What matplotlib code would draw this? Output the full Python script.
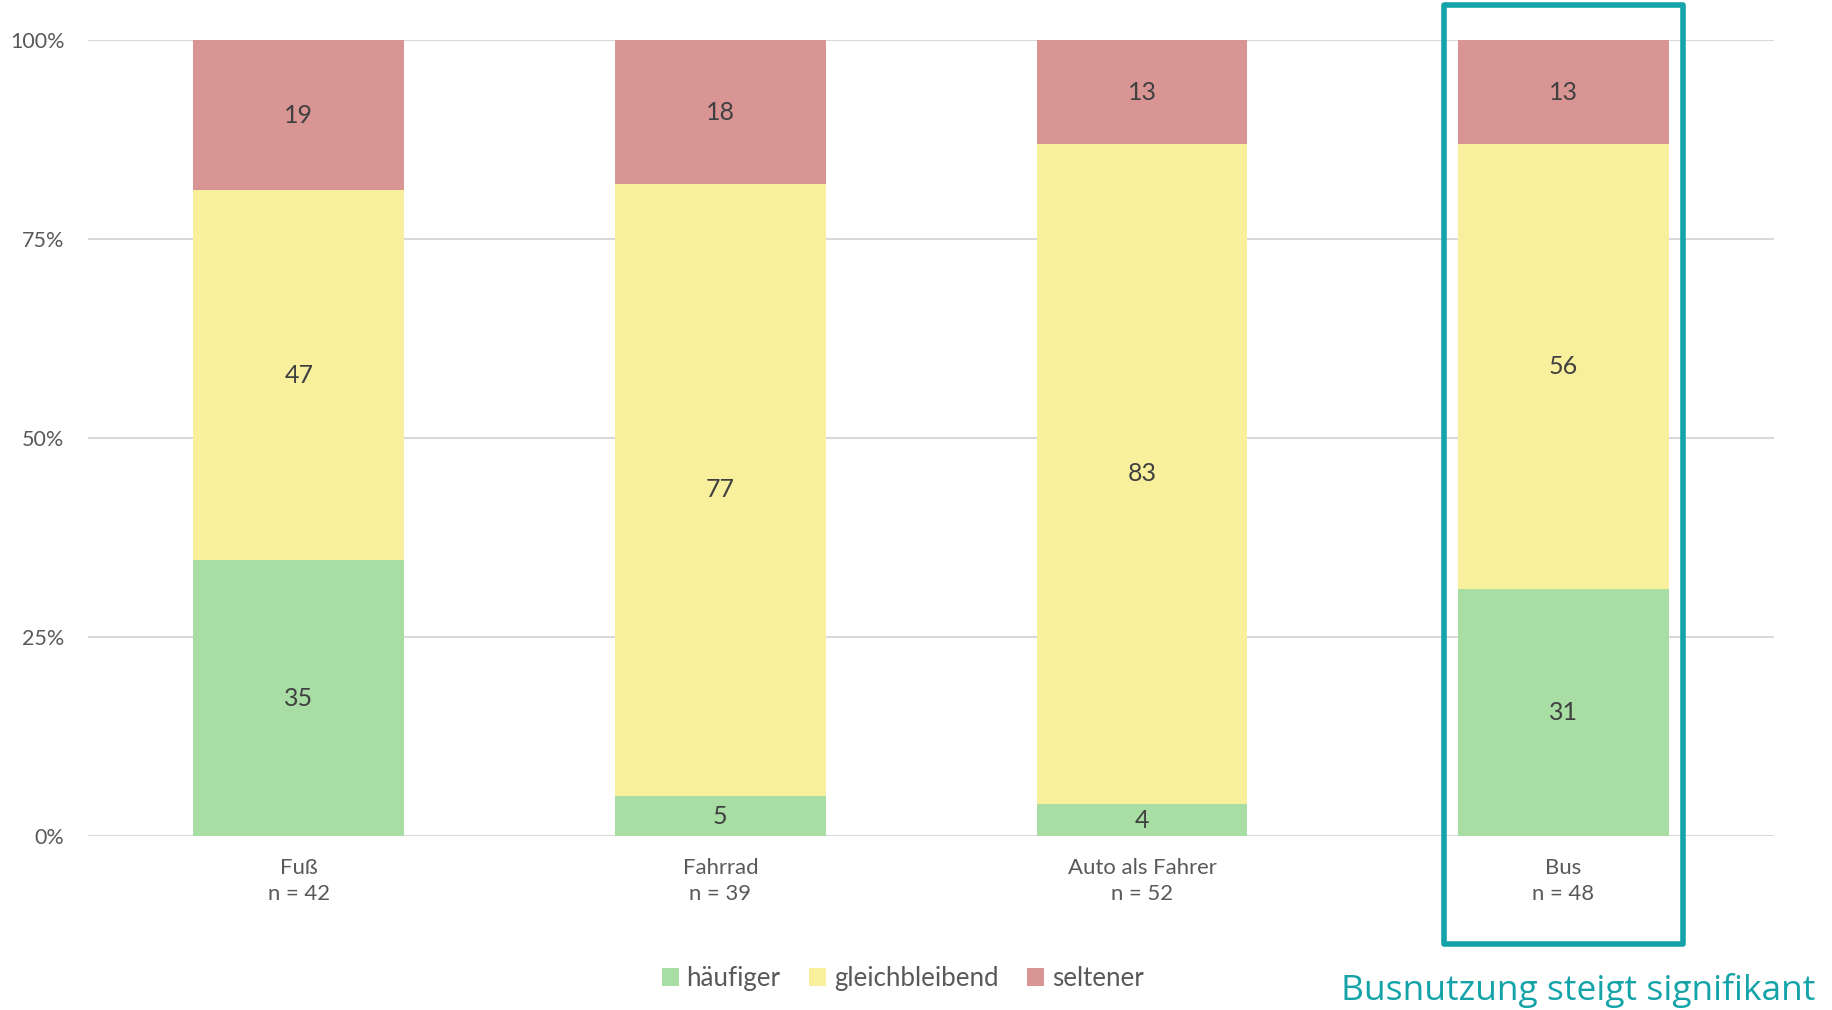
import matplotlib.pyplot as plt
import numpy as np
from matplotlib.patches import Rectangle, Patch

categories = ['Fuß', 'Fahrrad', 'Auto als Fahrer', 'Bus']
sample_sizes = [42, 39, 52, 48]
haeufiger = [35, 5, 4, 31]
gleichbleibend = [47, 77, 83, 56]
seltener = [19, 18, 13, 13]
series_names = ['häufiger', 'gleichbleibend', 'seltener']
colors = ['#A8DDA4', '#F8F09D', '#D99594']
highlight = 'Bus'
note = 'Busnutzung steigt signifikant'
teal = '#14A3A8'

plt.rcParams['font.family'] = ['Lato', 'DejaVu Sans']

fig = plt.figure(figsize=(18.33, 10.10), dpi=100)
ax = fig.add_axes([0.048, 0.1723, 0.92, 0.7877])

values = np.array([haeufiger, gleichbleibend, seltener], dtype=float)
shares = values / values.sum(axis=0)
x = np.arange(len(categories))
bottom = np.zeros(len(categories))
for raw, share, color in zip(values, shares, colors):
    ax.bar(x, share, 0.5, bottom=bottom, color=color, zorder=2)
    for xi, b, s, v in zip(x, bottom, share, raw):
        ax.text(xi, b + s / 2, f'{v:.0f}', ha='center', va='center',
                fontsize=18, color='#404040', zorder=3)
    bottom += share

ax.set_xlim(-0.5, len(categories) - 0.5)
ax.set_ylim(0, 1)
ax.set_yticks([0, 0.25, 0.5, 0.75, 1.0])
ax.set_yticklabels(['0%', '25%', '50%', '75%', '100%'])
ax.set_xticks(x)
ax.set_xticklabels([f'{c}\nn = {n}' for c, n in zip(categories, sample_sizes)],
                   linespacing=1.4)
ax.tick_params(axis='y', length=0, pad=17, labelsize=15.5, labelcolor='#595959')
ax.tick_params(axis='x', length=0, pad=15.6, labelsize=15.9, labelcolor='#595959')
ax.yaxis.grid(True, color='#D9D9D9', linewidth=1.5, zorder=0)
for s in ['top', 'right', 'left', 'bottom']:
    ax.spines[s].set_visible(False)

# highlight box around the bus column
hi = categories.index(highlight)
ax.add_patch(Rectangle((hi - 0.2845, -0.136), 0.569, 1.18, fill=False,
                       edgecolor=teal, linewidth=4, clip_on=False, zorder=4,
                       joinstyle='round'))
fig.text(0.7315, 0.0099, note, ha='left', va='baseline', fontsize=25.5,
         color=teal, family=['Open Sans', 'DejaVu Sans'])

handles = [Patch(facecolor=c, edgecolor='none') for c in colors]
fig.legend(handles, series_names, loc='center', bbox_to_anchor=(0.4925, 0.031),
           ncol=3, frameon=False, fontsize=18.6, labelcolor='#595959',
           handlelength=0.67, handleheight=0.67, handletextpad=0.3,
           columnspacing=1.1)

fig.savefig('out.png', dpi=100)
